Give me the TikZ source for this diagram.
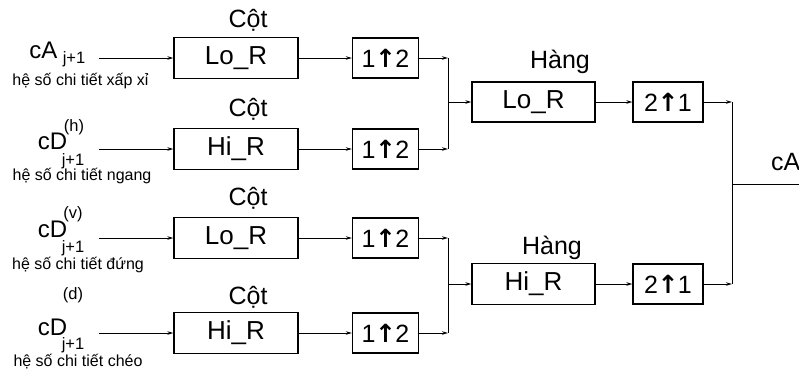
\documentclass[tikz,border=0pt]{standalone}
\usepackage{fontspec}
\setmainfont{Liberation Sans}
\newfontfamily\arrfont{DejaVu Sans}
\usetikzlibrary{arrows.meta}
\newcommand{\fs}[1]{\fontsize{#1}{#1}\selectfont}
\newcommand{\upa}{{\arrfont\bfseries\kern-0.5pt↑\kern-0.5pt}}
\begin{document}
\begin{tikzpicture}[x=1pt,y=-1pt,
  filt/.style={draw, line width=1.3pt, minimum width=124pt, minimum height=41pt, inner sep=0pt, font=\fs{26}},
  samp/.style={draw, line width=1.3pt, minimum width=66pt, minimum height=40pt, inner sep=0pt, font=\fs{25}},
  samp2/.style={samp, minimum width=70pt},
  lbl/.style={inner sep=0pt, font=\fs{25}},
  big/.style={inner sep=0pt, font=\fs{24}},
  sub/.style={inner sep=0pt, font=\fs{16.5}},
  captxt/.style={inner sep=0pt, font=\fs{16}},
  conn/.style={line width=1pt},
  arr/.style={conn, -{Stealth[length=6pt,width=3.5pt]}}
]
\useasboundingbox (0,0) rectangle (799,373);

% column filters
\node[filt] (c1) at (236,58) {Lo\_R};
\node[filt] (c2) at (236,149) {Hi\_R};
\node[filt] (c3) at (236,238) {Lo\_R};
\node[filt] (c4) at (236,333) {Hi\_R};
\node[lbl] (t1) at (248,20) {Cột};
\node[lbl] (t2) at (248,109) {Cột};
\node[lbl] (t3) at (248,198) {Cột};
\node[lbl] (t4) at (248,297) {Cột};

% upsamplers
\node[samp] (u1) at (385.5,58) {1\upa2};
\node[samp] (u2) at (385.5,149) {1\upa2};
\node[samp] (u3) at (385.5,238) {1\upa2};
\node[samp] (u4) at (385.5,333) {1\upa2};

% row filters
\node[filt, minimum width=123pt, minimum height=40pt] (h1) at (533.5,102) {Lo\_R};
\node[filt, minimum width=123pt, minimum height=41pt] (h2) at (533.5,284) {Hi\_R};
\node[lbl] (ht1) at (560,62) {Hàng};
\node[lbl] (ht2) at (552,248) {Hàng};

% downsamplers
\node[samp2] (d1) at (668,102) {2\upa1};
\node[samp2] (d2) at (668,284) {2\upa1};

% inputs
\node[big] (a1) at (43.5,50) {cA};
\node[sub] (a1s) at (74,59) {j+1};
\node[captxt] (a1c) at (80.5,81) {hệ số chi tiết xấp xỉ};

\node[big] (a2) at (52.5,141) {cD};
\node[sub] (a2p) at (74,127) {(h)};
\node[sub] (a2s) at (73,161) {j+1};
\node[captxt] (a2c) at (82,176) {hệ số chi tiết ngang};

\node[big] (a3) at (52.5,229) {cD};
\node[sub] (a3p) at (73,214) {(v)};
\node[sub] (a3s) at (73,248) {j+1};
\node[captxt] (a3c) at (78,265) {hệ số chi tiết đứng};

\node[sub] (a4p) at (73,295) {(d)};
\node[big] (a4) at (52.5,327) {cD};
\node[sub] (a4s) at (73,345) {j+1};
\node[captxt] (a4c) at (78,362) {hệ số chi tiết chéo};

\node[lbl, anchor=west] (out) at (771,162) {cA};

\coordinate (i1) at (99,58);
\coordinate (i2) at (99,149);
\coordinate (i3) at (99,238);
\coordinate (i4) at (99,333);
\coordinate (m1) at (448,102);
\coordinate (m2) at (448,284);
\coordinate (f) at (732,184);
\coordinate (o) at (799,184);

\foreach \k in {1,2,3,4} {
  \draw[arr] (i\k) -- (c\k.west);
  \draw[arr] (c\k) -- (u\k.west);
  \draw[arr] (u\k.east) -- (u\k.east -| m1);
}
\draw[conn] (u1.east -| m1) -- (u2.east -| m1);
\draw[conn] (u3.east -| m2) -- (u4.east -| m2);
\draw[arr] (m1) -- (h1.west);
\draw[arr] (m2) -- (h2.west);
\draw[arr] (h1) -- (d1.west);
\draw[arr] (h2) -- (d2.west);
\draw[arr] (d1.east) -- (d1.east -| f);
\draw[arr] (d2.east) -- (d2.east -| f);
\draw[conn] (d1.east -| f) -- (d2.east -| f);
\draw[conn] (f) -- (o);
\end{tikzpicture}
\end{document}
